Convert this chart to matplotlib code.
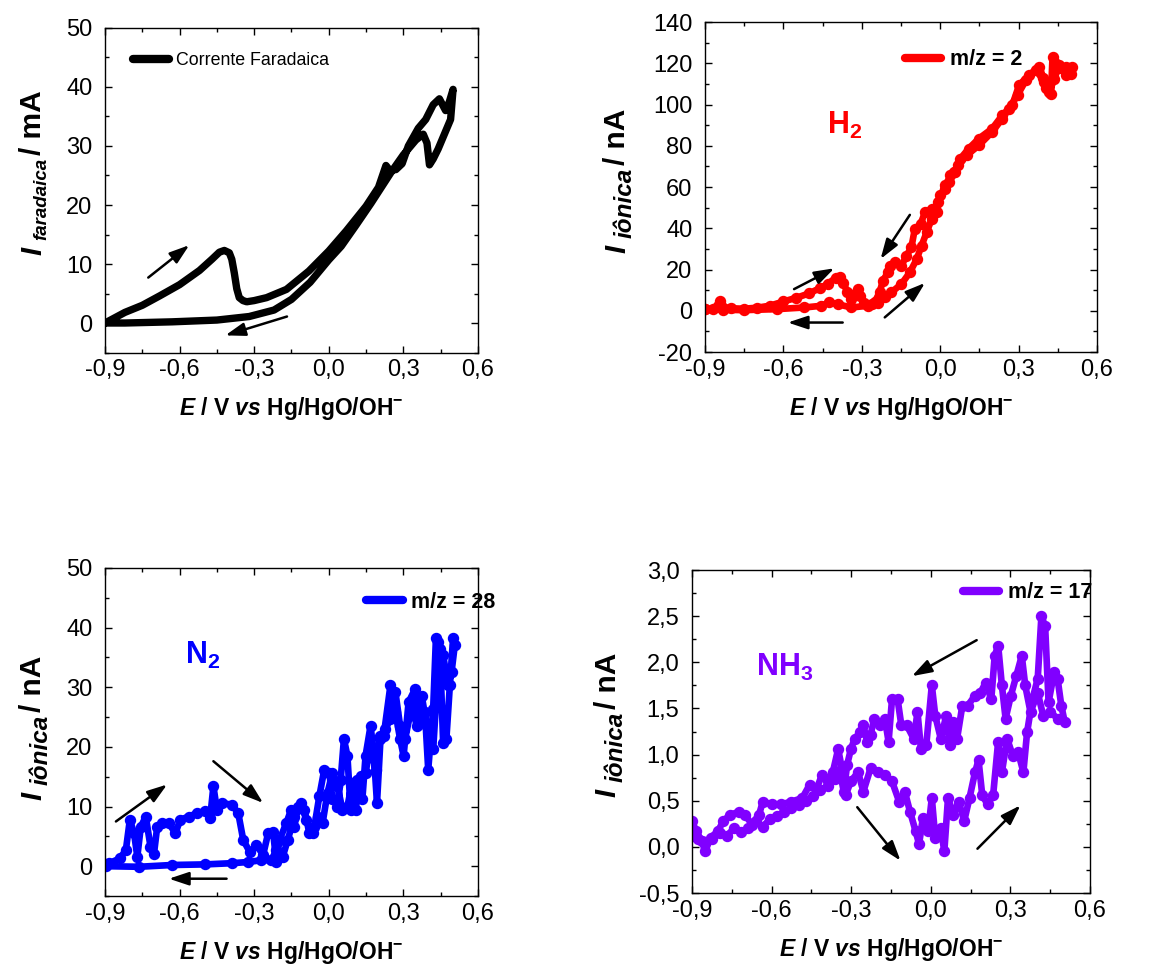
import matplotlib
matplotlib.use("Agg")
import matplotlib.pyplot as plt
from matplotlib.ticker import MultipleLocator, FuncFormatter
from matplotlib.lines import Line2D

plt.rcParams.update({
    "font.family": "Liberation Sans",
    "mathtext.fontset": "custom",
    "mathtext.rm": "Liberation Sans",
    "mathtext.it": "Liberation Sans:italic",
    "mathtext.bf": "Liberation Sans:bold",
    "mathtext.bfit": "Liberation Sans:italic:bold",
    "xtick.direction": "in",
    "ytick.direction": "in",
    "xtick.top": True,
    "ytick.right": True,
    "xtick.major.size": 5,
    "ytick.major.size": 5,
    "xtick.minor.size": 3,
    "ytick.minor.size": 3,
    "xtick.major.width": 1.0,
    "ytick.major.width": 1.0,
    "xtick.minor.width": 1.0,
    "ytick.minor.width": 1.0,
    "axes.linewidth": 1.0,
    "xtick.labelsize": 17,
    "ytick.labelsize": 17,
    "xtick.major.pad": 5,
    "ytick.major.pad": 9,
})

# ---- cyclic voltammetry data (E / V, current) : anodic sweep then cathodic sweep ----
faradaic_fwd = [(-0.90, 0.0), (-0.82, 1.8), (-0.75, 3.0), (-0.68, 4.6), (-0.60, 6.5), (-0.52, 8.9),
                (-0.47, 10.8), (-0.44, 12.0), (-0.42, 12.3), (-0.40, 11.9), (-0.39, 10.8), (-0.38, 8.5),
                (-0.37, 5.8), (-0.36, 4.3), (-0.345, 3.8), (-0.33, 3.6), (-0.30, 3.8), (-0.25, 4.3),
                (-0.17, 5.7), (-0.08, 8.8), (0.00, 12.2), (0.07, 15.6), (0.15, 19.8), (0.20, 23.0),
                (0.23, 26.7), (0.245, 25.9), (0.27, 26.0), (0.295, 27.0), (0.32, 30.0), (0.36, 33.0),
                (0.39, 34.5), (0.42, 37.0), (0.445, 38.0), (0.47, 36.0), (0.485, 37.5), (0.50, 39.6)]
faradaic_bwd = [(0.49, 34.5), (0.465, 32.0), (0.44, 29.5), (0.42, 27.8), (0.405, 26.8), (0.395, 30.5),
                (0.38, 32.0), (0.35, 31.0), (0.30, 28.5), (0.25, 25.5), (0.17, 20.3), (0.11, 16.6),
                (0.05, 13.0), (0.00, 10.7), (-0.075, 6.9), (-0.15, 4.0), (-0.22, 2.2), (-0.32, 1.1),
                (-0.45, 0.5), (-0.63, 0.2), (-0.82, 0.0), (-0.90, 0.0)]

h2_fwd = [(-0.90, 0.8), (-0.87, 1.0), (-0.85, 2.5), (-0.842, 4.9), (-0.835, 2.0), (-0.80, 1.2),
          (-0.75, 1.0), (-0.70, 1.5), (-0.65, 2.5), (-0.60, 4.5), (-0.55, 6.3), (-0.50, 8.5),
          (-0.46, 11.0), (-0.43, 13.0), (-0.40, 16.0), (-0.385, 16.2), (-0.37, 13.5), (-0.355, 9.0),
          (-0.34, 5.7), (-0.325, 8.0), (-0.315, 10.5), (-0.305, 7.0), (-0.29, 4.0), (-0.26, 3.2),
          (-0.238, 4.0), (-0.21, 6.5), (-0.187, 8.9), (-0.148, 13.0), (-0.116, 18.6), (-0.09, 25.0),
          (-0.071, 31.6), (-0.052, 38.0), (-0.032, 44.6), (-0.007, 52.7), (0.019, 60.8), (0.032, 62.4),
          (0.057, 67.3), (0.077, 73.7), (0.109, 78.6), (0.148, 83.5), (0.199, 88.3), (0.238, 94.8),
          (0.276, 99.7), (0.302, 109.4), (0.34, 114.3), (0.379, 118.3), (0.395, 113.0), (0.405, 107.8),
          (0.424, 105.3), (0.43, 123.2), (0.44, 120.0), (0.456, 117.5), (0.482, 118.3), (0.505, 118.3)]
h2_bwd = [(0.50, 115.0), (0.482, 114.3), (0.456, 119.0), (0.437, 112.6), (0.418, 106.0), (0.399, 111.0),
          (0.366, 116.7), (0.328, 111.8), (0.296, 104.5), (0.263, 98.0), (0.238, 93.2), (0.199, 86.7),
          (0.148, 80.2), (0.102, 75.4), (0.07, 70.5), (0.051, 67.3), (0.038, 65.6), (0.019, 59.2),
          (0.0, 55.9), (-0.013, 47.8), (-0.032, 49.4), (-0.058, 47.8), (-0.075, 42.0), (-0.097, 39.7),
          (-0.11, 30.8), (-0.129, 26.7), (-0.148, 21.9), (-0.174, 23.5), (-0.193, 21.9), (-0.20, 18.6),
          (-0.219, 14.6), (-0.232, 8.9), (-0.251, 4.1), (-0.277, 2.4), (-0.341, 1.6), (-0.392, 3.2),
          (-0.424, 4.1), (-0.456, 2.4), (-0.52, 1.6), (-0.624, 0.8), (-0.752, 0.3), (-0.83, 0.5),
          (-0.90, 0.8)]

n2_fwd = [(-0.90, 0.3), (-0.883, 0.5), (-0.84, 1.3), (-0.816, 2.7), (-0.80, 7.8), (-0.783, 5.5),
          (-0.77, 1.6), (-0.756, 6.6), (-0.736, 8.3), (-0.717, 3.3), (-0.703, 2.1), (-0.69, 6.6),
          (-0.67, 7.2), (-0.643, 7.2), (-0.617, 5.5), (-0.597, 7.8), (-0.564, 8.3), (-0.53, 8.9),
          (-0.497, 9.2), (-0.477, 8.1), (-0.464, 13.4), (-0.45, 9.5), (-0.43, 10.6), (-0.39, 10.3),
          (-0.364, 8.9), (-0.344, 4.4), (-0.318, 2.4), (-0.291, 3.5), (-0.264, 1.9), (-0.244, 5.5),
          (-0.224, 5.8), (-0.211, 0.7), (-0.198, 4.4), (-0.171, 7.2), (-0.151, 9.5), (-0.138, 6.6),
          (-0.125, 10.0), (-0.098, 9.5), (-0.078, 5.5), (-0.058, 6.6), (-0.038, 11.7), (-0.018, 16.2),
          (0.002, 15.7), (0.015, 11.2), (0.035, 10.0), (0.048, 14.5), (0.061, 21.3), (0.075, 18.5),
          (0.088, 9.5), (0.115, 14.5), (0.135, 11.2), (0.148, 18.5), (0.168, 23.5), (0.181, 19.0),
          (0.194, 10.6), (0.208, 21.3), (0.221, 21.9), (0.248, 30.3), (0.268, 25.8), (0.287, 21.3),
          (0.301, 18.5), (0.321, 27.5), (0.347, 29.7), (0.367, 24.1), (0.387, 25.8), (0.40, 16.2),
          (0.42, 26.4), (0.431, 38.2), (0.447, 36.5), (0.46, 20.7), (0.473, 21.3), (0.487, 30.3),
          (0.50, 38.2)]
n2_bwd = [(0.507, 37.1), (0.494, 32.6), (0.48, 30.3), (0.46, 35.4), (0.44, 37.6), (0.434, 29.2),
          (0.42, 19.6), (0.394, 23.5), (0.374, 28.6), (0.354, 23.5), (0.334, 26.9), (0.307, 21.3),
          (0.287, 23.5), (0.268, 29.2), (0.248, 24.7), (0.228, 23.0), (0.208, 21.9), (0.188, 16.2),
          (0.168, 20.2), (0.148, 15.7), (0.128, 15.1), (0.108, 9.5), (0.094, 14.0), (0.075, 10.0),
          (0.055, 9.5), (0.035, 13.4), (0.015, 15.7), (-0.005, 12.3), (-0.025, 7.2), (-0.045, 8.3),
          (-0.065, 5.5), (-0.091, 7.8), (-0.111, 10.6), (-0.138, 8.3), (-0.165, 4.4), (-0.185, 1.6),
          (-0.211, 2.7), (-0.231, 1.0), (-0.271, 1.0), (-0.324, 0.7), (-0.39, 0.5), (-0.497, 0.3),
          (-0.63, 0.2), (-0.763, -0.1), (-0.896, 0.0)]

nh3_fwd = [(-0.90, 0.28), (-0.884, 0.17), (-0.863, 0.06), (-0.85, -0.05), (-0.83, 0.10), (-0.802, 0.17),
           (-0.782, 0.28), (-0.755, 0.35), (-0.721, 0.38), (-0.70, 0.35), (-0.674, 0.24), (-0.647, 0.35),
           (-0.633, 0.49), (-0.60, 0.46), (-0.565, 0.46), (-0.525, 0.49), (-0.484, 0.53), (-0.457, 0.67),
           (-0.43, 0.63), (-0.41, 0.78), (-0.389, 0.71), (-0.369, 0.81), (-0.349, 1.06), (-0.335, 0.85),
           (-0.321, 0.56), (-0.301, 0.71), (-0.274, 0.81), (-0.254, 0.60), (-0.227, 0.85), (-0.20, 0.81),
           (-0.173, 0.78), (-0.146, 0.71), (-0.119, 0.49), (-0.098, 0.60), (-0.078, 0.38), (-0.057, 0.17),
           (-0.044, 0.03), (-0.03, 0.31), (-0.01, 0.17), (0.004, 0.53), (0.017, 0.10), (0.038, 0.20),
           (0.051, -0.05), (0.065, 0.53), (0.085, 0.35), (0.105, 0.49), (0.126, 0.28), (0.146, 0.53),
           (0.167, 0.81), (0.18, 0.94), (0.194, 0.56), (0.214, 0.46), (0.235, 0.56), (0.254, 1.14),
           (0.268, 0.81), (0.288, 1.17), (0.309, 0.99), (0.329, 1.03), (0.349, 0.81), (0.363, 1.24),
           (0.383, 1.60), (0.403, 1.82), (0.417, 2.50), (0.431, 2.39), (0.444, 1.57)]
nh3_bwd = [(0.465, 1.89), (0.478, 1.82), (0.492, 1.53), (0.505, 1.35), (0.478, 1.39), (0.451, 1.46),
           (0.424, 1.42), (0.403, 1.67), (0.376, 1.46), (0.356, 1.75), (0.343, 2.07), (0.322, 1.85),
           (0.302, 1.64), (0.282, 1.39), (0.268, 1.75), (0.254, 2.18), (0.241, 2.07), (0.228, 1.60),
           (0.207, 1.78), (0.187, 1.67), (0.167, 1.64), (0.139, 1.53), (0.119, 1.53), (0.099, 1.17),
           (0.085, 1.35), (0.072, 1.10), (0.058, 1.42), (0.038, 1.17), (0.017, 1.42), (0.004, 1.75),
           (-0.017, 1.10), (-0.037, 1.06), (-0.05, 1.46), (-0.064, 1.17), (-0.091, 1.32), (-0.111, 1.32),
           (-0.125, 1.60), (-0.146, 1.60), (-0.159, 1.14), (-0.173, 1.39), (-0.193, 1.32), (-0.213, 1.39),
           (-0.227, 1.21), (-0.24, 1.14), (-0.254, 1.32), (-0.267, 1.24), (-0.287, 1.17), (-0.301, 1.06),
           (-0.315, 0.89), (-0.328, 0.60), (-0.342, 0.81), (-0.362, 0.74), (-0.389, 0.66), (-0.416, 0.62),
           (-0.443, 0.55), (-0.47, 0.50), (-0.498, 0.45), (-0.525, 0.42), (-0.552, 0.38), (-0.579, 0.33),
           (-0.606, 0.30), (-0.633, 0.22), (-0.66, 0.28), (-0.687, 0.20), (-0.714, 0.16), (-0.741, 0.20),
           (-0.769, 0.12), (-0.796, 0.15), (-0.823, 0.08), (-0.85, 0.05), (-0.877, 0.08), (-0.90, 0.12)]

legend_labels = ["Corrente Faradaica", "m/z = 2", "m/z = 28", "m/z = 17"]
species = [r"$\mathbf{H_2}$", r"$\mathbf{N_2}$", r"$\mathbf{NH_3}$"]
current_names = ["faradaica", "iônica"]
current_units = ["/ mA", "/ nA"]

BLACK, RED, BLUE, PURPLE = "#000000", "#FF0000", "#0000FF", "#8000FF"

XLABEL = r"$\mathbfit{E}$ / V $\mathbfit{vs}$ Hg/HgO/OH$^{\mathbf{-}}$"


def comma_fmt(decimals):
    def f(v, pos):
        if abs(v) < 1e-9:
            v = 0.0
        return f"{v:.{decimals}f}".replace(".", ",")
    return FuncFormatter(f)


def style_axes(ax, ylim, ymajor, yminor, ydec):
    ax.set_xlim(-0.9, 0.6)
    ax.set_ylim(*ylim)
    ax.xaxis.set_major_locator(MultipleLocator(0.3))
    ax.xaxis.set_minor_locator(MultipleLocator(0.15))
    ax.yaxis.set_major_locator(MultipleLocator(ymajor))
    ax.yaxis.set_minor_locator(MultipleLocator(yminor))
    ax.xaxis.set_major_formatter(comma_fmt(1))
    ax.yaxis.set_major_formatter(comma_fmt(ydec))
    ax.set_xlabel(XLABEL, fontsize=16.5, fontweight="bold", labelpad=10)


def current_label(ax, x, y, name, unit, sub_size):
    """Vertical 'I_name / unit' label with a large Origin-style subscript."""
    t1 = ax.text(x, y, "I", transform=ax.transAxes, rotation=90, ha="center", va="bottom",
                 fontsize=21, fontweight="bold", fontstyle="italic")
    t2 = ax.annotate(name, xy=(0.5, 1.0), xycoords=t1, xytext=(6, 5), textcoords="offset points",
                     rotation=90, ha="center", va="bottom", fontsize=sub_size,
                     fontweight="bold", fontstyle="italic")
    ax.annotate(unit, xy=(0.5, 1.0), xycoords=t2, xytext=(-6, 2), textcoords="offset points",
                rotation=90, ha="center", va="bottom", fontsize=21.5, fontweight="bold")


def draw_cv(ax, fwd, bwd, color, beads):
    pts = fwd + bwd
    E = [p[0] for p in pts]
    I = [p[1] for p in pts]
    if beads:
        ax.plot(E, I, color=color, lw=4.8, marker="o", ms=7.2, mec=color, mfc=color,
                solid_joinstyle="round", solid_capstyle="round", zorder=2)
    else:
        ax.plot(E, I, color=color, lw=5.3, solid_joinstyle="round",
                solid_capstyle="round", zorder=2)


def arrow(ax, start, end):
    ax.annotate("", xy=end, xytext=start,
                arrowprops=dict(arrowstyle="-|>,head_length=0.75,head_width=0.25",
                                lw=1.8, color="black", shrinkA=0, shrinkB=0,
                                mutation_scale=16), zorder=3)


def add_legend(ax, label, color, anchor, fontsize, weight, hlen):
    h = Line2D([], [], color=color, lw=6, solid_capstyle="round")
    ax.legend([h], [label], loc="center left", bbox_to_anchor=anchor, frameon=False,
              handlelength=hlen, handletextpad=0.4, borderpad=0, borderaxespad=0,
              prop={"size": fontsize, "weight": weight})


fig = plt.figure(figsize=(11.5, 9.65), dpi=100)

ax1 = fig.add_axes([0.0913, 0.6347, 0.3243, 0.3363])
ax2 = fig.add_axes([0.6130, 0.6352, 0.3409, 0.3420])
ax3 = fig.add_axes([0.0913, 0.0715, 0.3243, 0.3399])
ax4 = fig.add_axes([0.6017, 0.0746, 0.3461, 0.3347])

# Faradaic current
draw_cv(ax1, faradaic_fwd, faradaic_bwd, BLACK, beads=False)
style_axes(ax1, (-5, 50), 10, 5, 0)
current_label(ax1, -0.193, 0.30, current_names[0], current_units[0], 13.5)
add_legend(ax1, legend_labels[0], BLACK, (0.075, 0.90), 12.8, "normal", 2.0)
arrow(ax1, (-0.726, 7.7), (-0.561, 13.2))
arrow(ax1, (-0.168, 1.1), (-0.416, -2.1))

# m/z = 2
draw_cv(ax2, h2_fwd, h2_bwd, RED, beads=True)
style_axes(ax2, (-20, 140), 20, 10, 0)
current_label(ax2, -0.224, 0.30, current_names[1], current_units[1], 17.5)
add_legend(ax2, legend_labels[1], RED, (0.51, 0.885), 15.5, "bold", 1.7)
ax2.text(-0.364, 90, species[0], color=RED, fontsize=22, ha="center", va="center")
arrow(ax2, (-0.559, 10.5), (-0.405, 20.6))
arrow(ax2, (-0.116, 46.5), (-0.228, 25.1))
arrow(ax2, (-0.212, -3.2), (-0.058, 13.5))
arrow(ax2, (-0.373, -5.7), (-0.583, -5.7))

# m/z = 28
draw_cv(ax3, n2_fwd, n2_bwd, BLUE, beads=True)
style_axes(ax3, (-5, 50), 10, 5, 0)
current_label(ax3, -0.193, 0.293, current_names[1], current_units[1], 17.5)
add_legend(ax3, legend_labels[2], BLUE, (0.70, 0.895), 15.5, "bold", 1.7)
ax3.text(-0.506, 35.4, species[1], color=BLUE, fontsize=22, ha="center", va="center")
arrow(ax3, (-0.856, 7.5), (-0.65, 13.7))
arrow(ax3, (-0.464, 17.6), (-0.264, 10.6))
arrow(ax3, (-0.411, -2.1), (-0.643, -2.1))

# m/z = 17
draw_cv(ax4, nh3_fwd, nh3_bwd, PURPLE, beads=True)
style_axes(ax4, (-0.5, 3.0), 0.5, 0.25, 1)
current_label(ax4, -0.211, 0.297, current_names[1], current_units[1], 17.5)
add_legend(ax4, legend_labels[3], PURPLE, (0.68, 0.93), 15.5, "bold", 1.7)
ax4.text(-0.55, 1.94, species[2], color=PURPLE, fontsize=22, ha="center", va="center")
arrow(ax4, (0.173, 2.24), (-0.071, 1.85))
arrow(ax4, (-0.277, 0.43), (-0.114, -0.15))
arrow(ax4, (0.176, -0.02), (0.338, 0.45))

fig.savefig("out.png", dpi=100)
